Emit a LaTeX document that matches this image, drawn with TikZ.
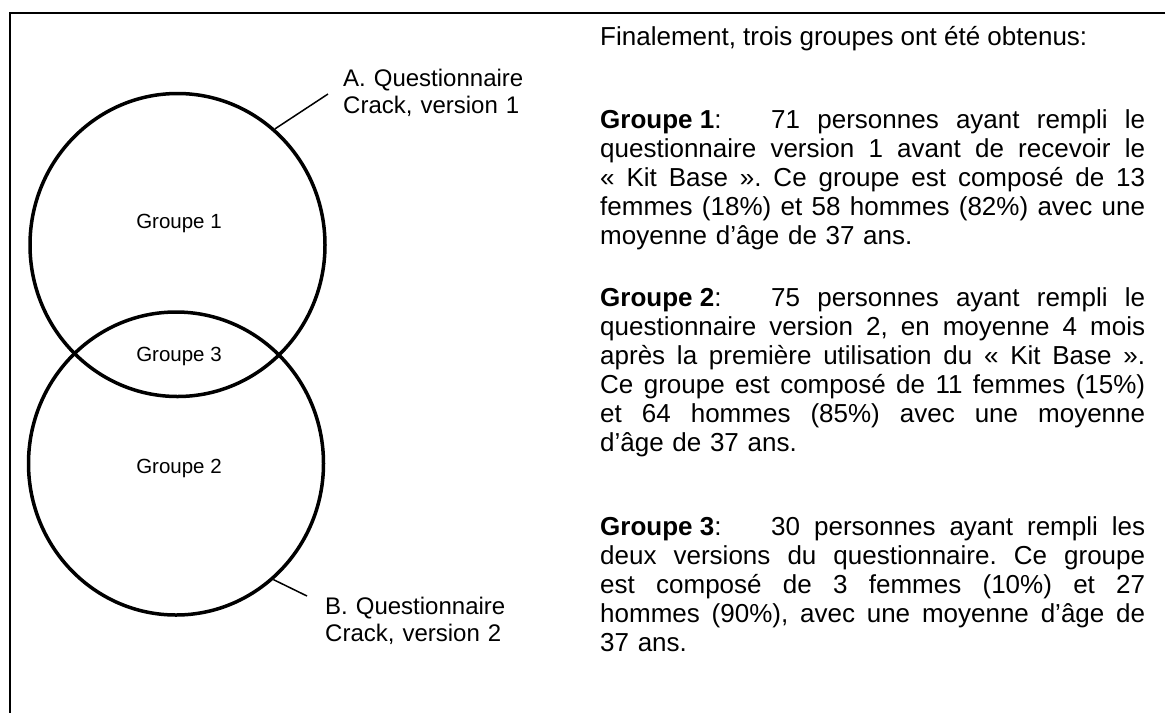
\documentclass[tikz,border=0pt]{standalone}
\usepackage{fontspec}
\setmainfont{Liberation Sans}
\usetikzlibrary{shapes.geometric}
\newcommand\jline[1]{\leavevmode\hbox to 545pt{\frenchspacing\spaceskip=0.278em plus 1fil\relax #1}}
\newcommand\tabgroup[1]{\hbox to 171pt{\spaceskip=0pt\relax #1\hfill}}
\begin{document}
\begin{tikzpicture}[x=1pt,y=-1pt,
  venn/.style={ellipse,draw,line width=3.5pt,minimum width=295pt,minimum height=303pt,inner sep=0pt},
  vlabel/.style={font=\fontsize{20.5}{24}\selectfont,inner sep=0pt},
  qlabel/.style={font=\fontsize{24}{27.5}\selectfont,text width=220pt,align=left,anchor=base west,inner sep=0pt},
  para/.style={font=\fontsize{26}{29}\selectfont,text width=545pt,align=left,anchor=base west,inner sep=0pt},
  leader/.style={line width=1.5pt},
  framestyle/.style={line width=2pt}]
\useasboundingbox (0,0) rectangle (1170,724);
\fill[white] (0,0) rectangle (1170,724);
% frame (top and left edges)
\coordinate (ftr) at (1165,13);
\coordinate (ftl) at (10,13);
\coordinate (fbl) at (10,713);
\draw[framestyle] (ftr) -- (ftl) -- (fbl);
% Venn circles
\node[venn] (c1) at (177.5,245) {};
\node[venn] (c2) at (176,463.5) {};
\node[vlabel] (g1) at (179,223) {Groupe 1};
\node[vlabel] (g3) at (179,356) {Groupe 3};
\node[vlabel] (g2) at (179,468) {Groupe 2};
% questionnaire labels
\node[qlabel] (la) at (343,86) {A. Questionnaire\\Crack, version 1};
\node[qlabel] (lb) at (325,614) {B. Questionnaire\\Crack, version 2};
\coordinate (ea) at (328,94);
\coordinate (eb) at (307,596);
\draw[leader] (c1.50) -- (ea);
\draw[leader] (c2.-50) -- (eb);
% text column
\node[anchor=base west,inner sep=0pt,font=\fontsize{26}{29}\selectfont] (title) at (600,45) {Finalement, trois groupes ont été obtenus:};
\node[para] (p1) at (600,128) {%
\jline{\tabgroup{\textbf{Groupe 1}:}71 personnes ayant rempli le}\\
\jline{questionnaire version 1 avant de recevoir le}\\
\jline{«~Kit Base~». Ce groupe est composé de 13}\\
\jline{femmes (18\%) et 58 hommes (82\%) avec une}\\
moyenne d’âge de 37 ans.};
\node[para] (p2) at (600,306) {%
\jline{\tabgroup{\textbf{Groupe 2}:}75 personnes ayant rempli le}\\
\jline{questionnaire version 2, en moyenne 4 mois}\\
\jline{après la première utilisation du «~Kit Base~».}\\
\jline{Ce groupe est composé de 11 femmes (15\%)}\\
\jline{et 64 hommes (85\%) avec une moyenne}\\
d’âge de 37 ans.};
\node[para] (p3) at (600,535) {%
\jline{\tabgroup{\textbf{Groupe 3}:}30 personnes ayant rempli les}\\
\jline{deux versions du questionnaire. Ce groupe}\\
\jline{est composé de 3 femmes (10\%) et 27}\\
\jline{hommes (90\%), avec une moyenne d’âge de}\\
37 ans.};
\end{tikzpicture}
\end{document}
